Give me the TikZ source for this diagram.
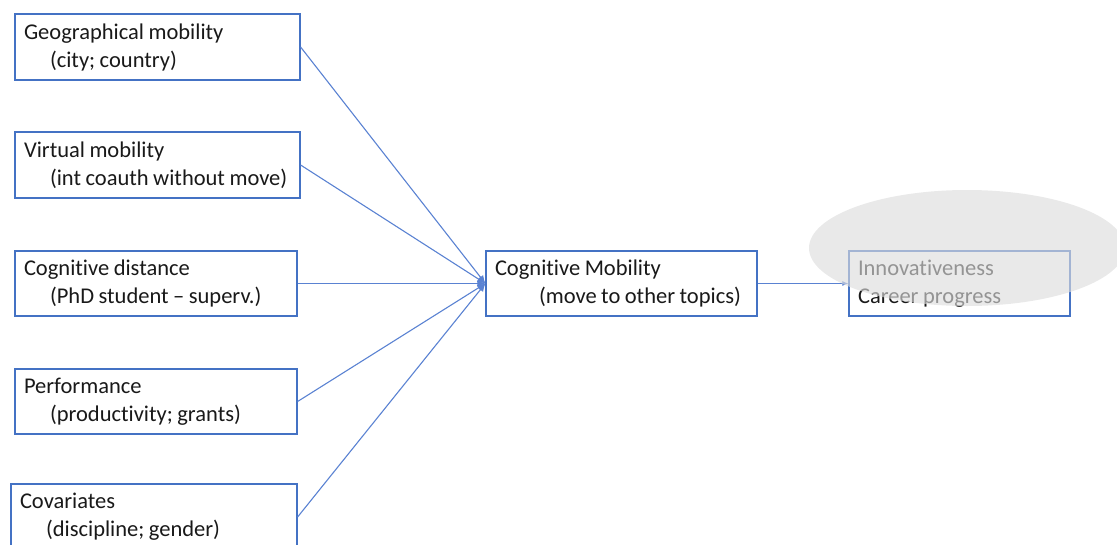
\documentclass[tikz,border=0pt]{standalone}
\usepackage{fontspec}
\setmainfont{Carlito}[Ligatures=NoCommon]
\usetikzlibrary{arrows.meta}

\definecolor{boxblue}{RGB}{68,114,196}
\definecolor{lineblue}{RGB}{90,130,210}
\definecolor{ovalgray}{RGB}{220,220,220}

\newcommand{\boxfont}{\fontsize{22.5}{28}\selectfont}

\begin{document}
\begin{tikzpicture}
[x=1pt,y=-1pt,>={Latex[length=8pt,width=7pt]},
box/.style={draw=boxblue,line width=1.2pt,rectangle,align=left,inner xsep=9pt,
  font=\boxfont,text=black!90,execute at begin node={\spaceskip=0.2em\relax}},
link/.style={draw=lineblue,line width=1.1pt,->},]

\useasboundingbox (0,0) rectangle (1117,544);

%Input boxes
\node (geo) at (157.5,47)[box,minimum width=285pt,minimum height=66pt,text width=267pt]
  {Geographical mobility\\\hspace*{26pt}\mbox{(city; country)}};
\node (virt) at (157.5,165)[box,minimum width=285pt,minimum height=66pt,text width=267pt]
  {Virtual mobility\\\hspace*{26pt}\mbox{(int coauth without move)}};
\node (dist) at (156,283.5)[box,minimum width=282pt,minimum height=65pt,text width=264pt]
  {Cognitive distance\\\hspace*{26pt}\mbox{(PhD student -- superv.)}};
\node (perf) at (156,401.5)[box,minimum width=282pt,minimum height=65pt,text width=264pt]
  {Performance\\\hspace*{26pt}\mbox{(productivity; grants)}};
\node (cov) at (154,517)[box,minimum width=286pt,minimum height=66pt,text width=268pt]
  {Covariates\\\hspace*{26pt}\mbox{(discipline; gender)}};

%Cognitive mobility and outcome
\node (cm) at (621.5,283.5)[box,minimum width=271pt,minimum height=65pt,text width=253pt]
  {Cognitive Mobility\\\hspace*{44pt}\mbox{(move to other topics)}};
\node (out) at (959.5,283.5)[box,minimum width=221pt,minimum height=65pt,text width=203pt]
  {Innovativeness\\Career progress};

%Joining the boxes
\foreach \n in {geo,virt,dist,perf,cov}
  \draw[link] (\n.east) -- (cm.west);
\draw[link,>={Latex[length=6pt,width=5pt]}] (cm.east) -- (out.west);

%Grey ellipse over the outcome box
\fill[ovalgray,opacity=0.63] (967,248) ellipse [x radius=158pt,y radius=58pt];

\end{tikzpicture}
\end{document}
